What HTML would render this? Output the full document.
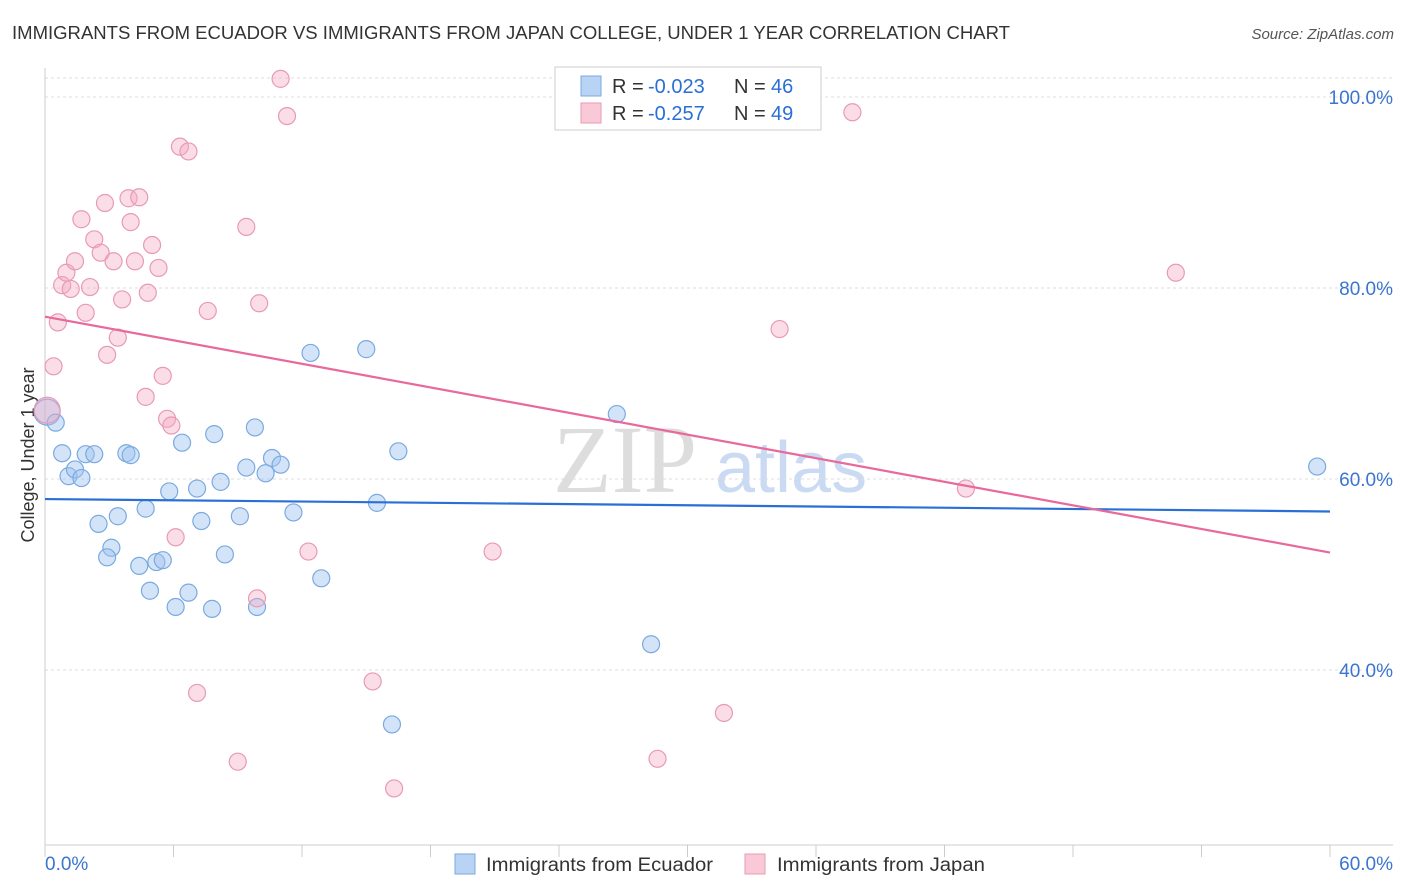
<!DOCTYPE html>
<html><head><meta charset="utf-8"><style>
body{margin:0;background:#fff;font-family:"Liberation Sans",sans-serif;}
</style></head><body>
<svg id="c" width="1406" height="892" style="display:block">
<text x="12" y="39" font-size="18" fill="#333" textLength="998" lengthAdjust="spacingAndGlyphs">IMMIGRANTS FROM ECUADOR VS IMMIGRANTS FROM JAPAN COLLEGE, UNDER 1 YEAR CORRELATION CHART</text>
<text x="1394" y="39" font-size="15" fill="#555" font-style="italic" text-anchor="end">Source: ZipAtlas.com</text>
<text x="0" y="0" font-size="18" fill="#333" transform="translate(34,455) rotate(-90)" text-anchor="middle">College, Under 1 year</text>
<g><text x="553" y="492" font-size="96" fill="#ddd" font-family="Liberation Serif,serif">ZIP</text><text x="715" y="492" font-size="72" fill="#c9daf2">atlas</text></g>
<g id="grid"></g><g id="pts"></g><g id="lines"></g>
<g>
<rect x="555" y="67" width="266" height="63" fill="#fff" stroke="#ccc"/>
<rect x="581" y="76" width="20" height="20" fill="#b9d3f5" stroke="#7aaae0"/>
<rect x="581" y="103" width="20" height="20" fill="#f9c9d8" stroke="#e89ab5"/>
<text x="612" y="93" font-size="20" fill="#333">R = </text><text x="648" y="93" font-size="20" fill="#2a6fd6">-0.023</text>
<text x="734" y="93" font-size="20" fill="#333">N = </text><text x="771" y="93" font-size="20" fill="#2a6fd6">46</text>
<text x="612" y="120" font-size="20" fill="#333">R = </text><text x="648" y="120" font-size="20" fill="#2a6fd6">-0.257</text>
<text x="734" y="120" font-size="20" fill="#333">N = </text><text x="771" y="120" font-size="20" fill="#2a6fd6">49</text>
</g>
<g>
<rect x="455" y="854" width="20" height="20" fill="#b9d3f5" stroke="#7aaae0"/>
<text x="486" y="871" font-size="19" fill="#333" textLength="227" lengthAdjust="spacingAndGlyphs">Immigrants from Ecuador</text>
<rect x="745" y="854" width="20" height="20" fill="#f9c9d8" stroke="#e89ab5"/>
<text x="777" y="871" font-size="19" fill="#333" textLength="208" lengthAdjust="spacingAndGlyphs">Immigrants from Japan</text>
</g>
</svg>
<script>
const yTicks=[100,80,60,40];
const xTickLabels=["0.0%","60.0%"];
const ecuadorX=[0.1,0.5,0.8,1.1,1.4,1.7,1.9,2.3,2.5,3.1,2.9,3.4,3.8,4.0,4.4,4.7,4.9,5.2,5.5,5.8,6.1,6.4,6.7,7.1,7.3,7.8,7.9,8.2,8.4,9.1,9.4,9.8,9.9,10.3,10.6,11.0,11.6,12.4,12.9,15.0,15.5,16.2,16.5,26.7,28.3,59.4];
const ecuadorY=[67.0,65.9,62.7,60.3,61.0,60.1,62.6,62.6,55.3,52.8,51.8,56.1,62.7,62.5,50.9,56.9,48.3,51.3,51.5,58.7,46.6,63.8,48.1,59.0,55.6,46.4,64.7,59.7,52.1,56.1,61.2,65.4,46.6,60.6,62.2,61.5,56.5,73.2,49.6,73.6,57.5,34.3,62.9,66.8,42.7,61.3];
const japanX=[0.1,0.4,0.6,0.8,1.0,1.2,1.4,1.7,1.9,2.1,2.3,2.6,2.8,2.9,3.2,3.4,3.6,3.9,4.0,4.2,4.4,4.7,4.8,5.0,5.3,5.5,5.7,5.9,6.1,6.3,6.7,7.1,7.6,9.0,9.4,9.9,10.0,11.0,11.3,12.3,15.3,16.3,20.9,28.6,31.7,34.3,37.7,43.0,52.8];
const japanY=[67.2,71.8,76.4,80.3,81.6,79.9,82.8,87.2,77.4,80.1,85.1,83.7,88.9,73.0,82.8,74.8,78.8,89.4,86.9,82.8,89.5,68.6,79.5,84.5,82.1,70.8,66.3,65.6,53.9,94.8,94.3,37.6,77.6,30.4,86.4,47.5,78.4,101.9,98.0,52.4,38.8,27.6,52.4,30.7,35.5,75.7,98.4,59.0,81.6];
const ecuadorTrend=[57.9,56.6];
const japanTrend=[77.0,52.3];
const NS="http://www.w3.org/2000/svg";
const X=v=>45+v/60*1285, Y=v=>97+(100-v)*9.55;
function mk(tag,at,parent){const e=document.createElementNS(NS,tag);for(const k in at)e.setAttribute(k,at[k]);document.getElementById(parent).appendChild(e);return e;}
mk('line',{x1:45,x2:1393,y1:78,y2:78,stroke:'#ddd','stroke-dasharray':'3,3'},'grid');
yTicks.forEach(t=>{
 const l=mk('line',{x1:45,x2:1393,y1:Y(t),y2:Y(t),stroke:'#ddd','stroke-dasharray':'3,3'},'grid');
 
 
 const tx=mk('text',{x:1393,y:Y(t)+7,'font-size':19,fill:'#3a75d0','text-anchor':'end'},'grid');
 tx.textContent=t.toFixed(1)+'%';
 
 
});
mk('line',{x1:45,x2:45,y1:68,y2:845,stroke:'#ccc'},'grid');
mk('line',{x1:45,x2:1393,y1:845,y2:845,stroke:'#ccc'},'grid');
for(let i=0;i<=10;i++){mk('line',{x1:X(i*6),x2:X(i*6),y1:845,y2:857,stroke:'#ccc'},'grid');}
xTickLabels.forEach((s,i)=>{const t=mk('text',{x:i?1393:45,y:870,'font-size':19,fill:'#3a75d0','text-anchor':i?'end':'start'},'grid');t.textContent=s;
 
 });
function dots(xs,ys,fill,stroke,name){xs.forEach((x,i)=>{
 const c=mk('circle',{cx:X(x),cy:Y(ys[i]),r:i===0?13:8.5,fill:fill,stroke:stroke,'stroke-width':1.2},'pts');
 
 });}
dots(ecuadorX,ecuadorY,'rgba(160,196,240,0.45)','#7aaae0','ecuador-point');
dots(japanX,japanY,'rgba(244,170,195,0.4)','#e89ab5','japan-point');
const l1=mk('line',{x1:X(0),x2:X(60),y1:Y(ecuadorTrend[0]),y2:Y(ecuadorTrend[1]),stroke:'#2a6fd6','stroke-width':2.2},'lines');


const l2=mk('line',{x1:X(0),x2:X(60),y1:Y(japanTrend[0]),y2:Y(japanTrend[1]),stroke:'#e8699a','stroke-width':2.2},'lines');


</script>
</body></html>
